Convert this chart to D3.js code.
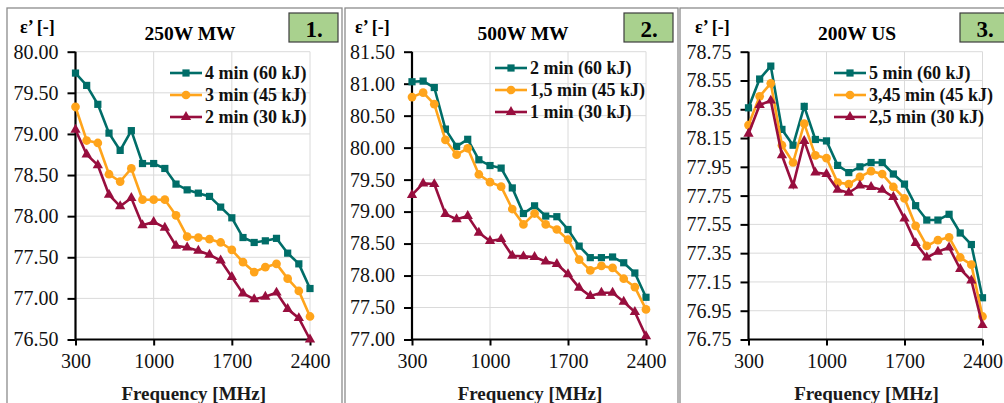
<!DOCTYPE html>
<html>
<head>
<meta charset="utf-8">
<script src="https://cdn.jsdelivr.net/npm/d3@7"></script>
<style>
  body { margin: 0; background: #fff; }
  svg text { font-family: "Liberation Serif", "Times New Roman", serif; }
</style>
</head>
<body>
<div id="vis"></div>
<script>
// frequencies (MHz) shared by all three panels
let freq = [300, 400, 500, 600, 700, 800, 900, 1000, 1100, 1200, 1300, 1400, 1500, 1600, 1700, 1800, 1900, 2000, 2100, 2200, 2300, 2400];
let xTicks = [300, 1000, 1700, 2400];

// panel 1 - 250W MW
let p1Names = ['4 min (60 kJ)', '3 min (45 kJ)', '2 min (30 kJ)'];
let p1High = [79.74, 79.59, 79.36, 79.01, 78.80, 79.04, 78.64, 78.64, 78.58, 78.39, 78.32, 78.28, 78.24, 78.11, 77.98, 77.74, 77.68, 77.70, 77.73, 77.55, 77.42, 77.12];
let p1Mid = [79.33, 78.92, 78.89, 78.51, 78.42, 78.58, 78.20, 78.20, 78.20, 78.01, 77.75, 77.74, 77.72, 77.68, 77.59, 77.44, 77.32, 77.38, 77.42, 77.24, 77.09, 76.78];
let p1Low = [79.05, 78.75, 78.62, 78.26, 78.12, 78.22, 77.89, 77.93, 77.86, 77.64, 77.62, 77.58, 77.53, 77.46, 77.26, 77.06, 76.99, 77.02, 77.07, 76.87, 76.76, 76.50];
let p1Ticks = [76.5, 77.0, 77.5, 78.0, 78.5, 79.0, 79.5, 80.0];

// panel 2 - 500W MW
let p2Names = ['2 min (60 kJ)', '1,5 min (45 kJ)', '1 min (30 kJ)'];
let p2High = [81.03, 81.04, 80.94, 80.29, 80.02, 80.13, 79.81, 79.72, 79.68, 79.37, 78.97, 79.09, 78.93, 78.92, 78.72, 78.46, 78.28, 78.28, 78.29, 78.20, 78.04, 77.66];
let p2Mid = [80.79, 80.86, 80.68, 80.12, 79.89, 79.99, 79.58, 79.46, 79.39, 79.04, 78.80, 78.97, 78.80, 78.72, 78.56, 78.25, 78.08, 78.15, 78.12, 77.95, 77.82, 77.47];
let p2Low = [79.26, 79.44, 79.43, 78.96, 78.88, 78.93, 78.67, 78.54, 78.57, 78.31, 78.30, 78.29, 78.22, 78.18, 78.02, 77.81, 77.68, 77.73, 77.73, 77.59, 77.43, 77.05];
let p2Ticks = [77.0, 77.5, 78.0, 78.5, 79.0, 79.5, 80.0, 80.5, 81.0, 81.5];

// panel 3 - 200W US
let p3Names = ['5 min (60 kJ)', '3,45 min (45 kJ)', '2,5 min (30 kJ)'];
let p3High = [78.36, 78.56, 78.65, 78.21, 78.10, 78.37, 78.14, 78.13, 77.96, 77.91, 77.95, 77.98, 77.98, 77.90, 77.83, 77.68, 77.58, 77.58, 77.62, 77.49, 77.41, 77.04];
let p3Mid = [78.24, 78.44, 78.53, 78.10, 77.98, 78.25, 78.03, 78.01, 77.84, 77.83, 77.88, 77.92, 77.90, 77.81, 77.73, 77.54, 77.40, 77.44, 77.46, 77.32, 77.27, 76.91];
let p3Low = [78.18, 78.38, 78.41, 78.03, 77.82, 78.13, 77.91, 77.90, 77.79, 77.77, 77.82, 77.81, 77.79, 77.74, 77.59, 77.42, 77.32, 77.36, 77.39, 77.24, 77.16, 76.85];
let p3Ticks = [76.75, 76.95, 77.15, 77.35, 77.55, 77.75, 77.95, 78.15, 78.35, 78.55, 78.75];

let colors = ['#006d68', '#ffa41b', '#980e3e'];
let symbols = [d3.symbolSquare, d3.symbolCircle, d3.symbolTriangle];
let symSize = [52, 60, 46];
let serif = '"Liberation Serif", "Times New Roman", serif';

let svg = d3.select('#vis')
  .append('svg')
  .attr('width', 1004)
  .attr('height', 403)
  .style('background-color', 'white');

let panels = [
  { box: [7, 8, 335], x0: 75.5, x1: 310, title: '250W MW', titleX: 190, tag: '1.', tagX: 289,
    ylab: 20, ticks: p1Ticks, series: [p1High, p1Mid, p1Low], names: p1Names, legX: 170, legY: 73 },
  { box: [345, 8, 333], x0: 412, x1: 646, title: '500W MW', titleX: 523, tag: '2.', tagX: 624,
    ylab: 355, ticks: p2Ticks, series: [p2High, p2Mid, p2Low], names: p2Names, legX: 495, legY: 68 },
  { box: [680, 8, 340], x0: 748.5, x1: 982.5, title: '200W US', titleX: 857, tag: '3.', tagX: 960,
    ylab: 695, ticks: p3Ticks, series: [p3High, p3Mid, p3Low], names: p3Names, legX: 834, legY: 73 }
];

let yTop = 51.7, yBot = 339.5;

panels.forEach(function(p) {
  let g = svg.append('g').attr('font-family', serif);

  // panel frame
  g.append('rect')
    .attr('x', p.box[0]).attr('y', p.box[1])
    .attr('width', p.box[2]).attr('height', 420)
    .attr('fill', 'white')
    .attr('stroke', '#8c8c8c')
    .attr('stroke-width', 1.3);

  let x = d3.scaleLinear().domain([300, 2400]).range([p.x0, p.x1]);
  let y = d3.scaleLinear().domain([p.ticks[0], p.ticks[p.ticks.length - 1]]).range([yBot, yTop]);

  // gridlines
  g.selectAll('.hg').data(p.ticks).enter().append('line')
    .attr('x1', p.x0).attr('x2', p.x1)
    .attr('y1', d => y(d)).attr('y2', d => y(d))
    .attr('stroke', '#dadada').attr('stroke-width', 1);
  g.selectAll('.vg').data(xTicks.slice(1)).enter().append('line')
    .attr('x1', d => x(d)).attr('x2', d => x(d))
    .attr('y1', yTop).attr('y2', yBot)
    .attr('stroke', '#dadada').attr('stroke-width', 1);

  // axes
  let yAxis = g.append('g')
    .attr('transform', 'translate(' + p.x0 + ',0)')
    .call(d3.axisLeft(y).tickValues(p.ticks).tickFormat(d3.format('.2f')).tickSize(8).tickPadding(9));
  let xAxis = g.append('g')
    .attr('transform', 'translate(0,' + yBot + ')')
    .call(d3.axisBottom(x).tickValues(xTicks).tickFormat(d3.format('d')).tickSize(6).tickPadding(8));
  [yAxis, xAxis].forEach(function(a) {
    a.attr('font-family', serif).attr('font-size', 20);
    a.select('.domain').attr('stroke', '#000').attr('stroke-width', 2.2);
    a.selectAll('.tick line').attr('stroke', '#000').attr('stroke-width', 2);
    a.selectAll('.tick text').attr('fill', '#111');
  });
  yAxis.select('.domain').attr('d', 'M0,' + yTop + 'V' + yBot);
  xAxis.select('.domain').attr('d', 'M' + p.x0 + ',0H' + p.x1);

  // lines and markers
  let line = d3.line().x((d, i) => x(freq[i])).y(d => y(d));
  p.series.forEach(function(s, k) {
    g.append('path')
      .attr('d', line(s))
      .attr('fill', 'none')
      .attr('stroke', colors[k])
      .attr('stroke-width', 2.6);
    g.selectAll('.m' + k).data(s).enter().append('path')
      .attr('transform', (d, i) => 'translate(' + x(freq[i]) + ',' + y(d) + ')')
      .attr('d', d3.symbol().type(symbols[k]).size(symSize[k]))
      .attr('fill', colors[k]);
  });

  // legend
  p.names.forEach(function(n, k) {
    let ly = p.legY + k * 22;
    g.append('line')
      .attr('x1', p.legX).attr('x2', p.legX + 32)
      .attr('y1', ly).attr('y2', ly)
      .attr('stroke', colors[k]).attr('stroke-width', 2.6);
    g.append('path')
      .attr('transform', 'translate(' + (p.legX + 16) + ',' + ly + ')')
      .attr('d', d3.symbol().type(symbols[k]).size(symSize[k]))
      .attr('fill', colors[k]);
    g.append('text')
      .attr('x', p.legX + 35).attr('y', ly + 6)
      .attr('font-size', '18px').attr('font-weight', 'bold')
      .attr('fill', '#111')
      .text(n);
  });

  // titles
  g.append('text')
    .attr('x', p.titleX).attr('y', 40)
    .attr('text-anchor', 'middle')
    .attr('font-size', '19.5px').attr('font-weight', 'bold')
    .text(p.title);
  g.append('text')
    .attr('x', p.ylab).attr('y', 33)
    .attr('font-size', '18px').attr('font-weight', 'bold')
    .text('ε’ [-]');
  g.append('text')
    .attr('x', (p.x0 + p.x1) / 2 + 1).attr('y', 400)
    .attr('text-anchor', 'middle')
    .attr('font-size', '19px').attr('font-weight', 'bold')
    .attr('fill', '#1a1a1a')
    .text('Frequency [MHz]');

  // numbered tag
  g.append('rect')
    .attr('x', p.tagX).attr('y', 13)
    .attr('width', 49).attr('height', 29)
    .attr('fill', '#a9d18e')
    .attr('stroke', '#3c3c3c').attr('stroke-width', 1.2);
  g.append('text')
    .attr('x', p.tagX + 25).attr('y', 37)
    .attr('text-anchor', 'middle')
    .attr('font-size', '23px').attr('font-weight', 'bold')
    .text(p.tag);
});
</script>
</body>
</html>
